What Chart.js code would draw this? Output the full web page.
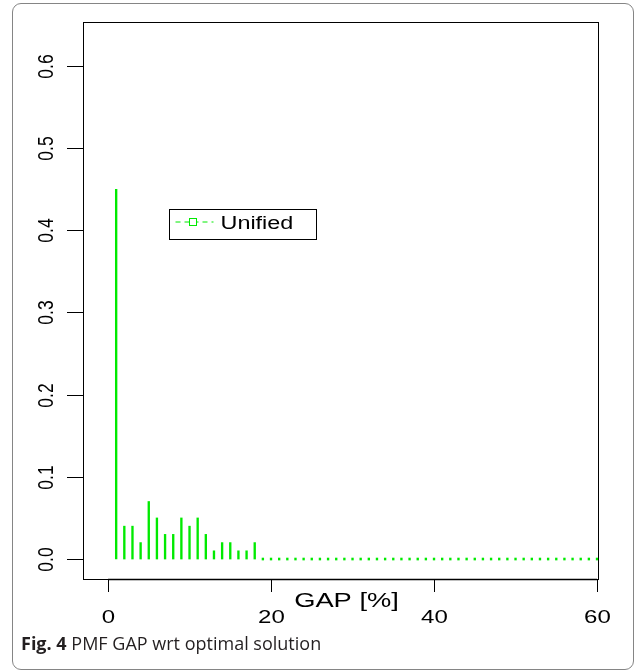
<!DOCTYPE html>
<html>
<head>
<meta charset="utf-8">
<title>PMF GAP wrt optimal solution</title>
<script src="https://cdn.jsdelivr.net/npm/chart.js@4.4.1/dist/chart.umd.min.js"></script>
<style>
  html, body { margin: 0; padding: 0; background: #fff; }
  #fig { position: relative; width: 635px; height: 672px; overflow: hidden; }
  #frame {
    position: absolute; left: 12px; top: 3px; width: 622px; height: 667px;
    border: 1.5px solid #858585; border-radius: 9px; box-sizing: border-box;
  }
  #plot { position: absolute; left: 0; top: 0; }
  #caption {
    position: absolute; left: 21px; top: 631px; margin: 0;
    font: 18px "Open Sans", sans-serif; color: #231f20; white-space: nowrap;
  }
</style>
</head>
<body>
<div id="fig">
  <div id="frame"></div>
  <canvas id="plot" width="635" height="672"></canvas>
  <p id="caption"><b>Fig. 4</b> PMF GAP wrt optimal solution</p>
</div>
<script>
// GAP values (%) and the probability mass at each of them
const gap = [
  1, 2, 3, 4, 5, 6, 7, 8, 9, 10,
  11, 12, 13, 14, 15, 16, 17, 18, 19, 20,
  21, 22, 23, 24, 25, 26, 27, 28, 29, 30,
  31, 32, 33, 34, 35, 36, 37, 38, 39, 40,
  41, 42, 43, 44, 45, 46, 47, 48, 49, 50,
  51, 52, 53, 54, 55, 56, 57, 58, 59, 60
];
const pmfUnified = [
  0.45, 0.04, 0.04, 0.02, 0.07, 0.05, 0.03, 0.03, 0.05, 0.04,
  0.05, 0.03, 0.01, 0.02, 0.02, 0.01, 0.01, 0.02, 0, 0,
  0, 0, 0, 0, 0, 0, 0, 0, 0, 0,
  0, 0, 0, 0, 0, 0, 0, 0, 0, 0,
  0, 0, 0, 0, 0, 0, 0, 0, 0, 0,
  0, 0, 0, 0, 0, 0, 0, 0, 0, 0
];
const seriesName = "Unified";
const xTicks = [0, 20, 40, 60];
const yTicks = [0, 0.1, 0.2, 0.3, 0.4, 0.5, 0.6];
const yTickLabels = ["0.0", "0.1", "0.2", "0.3", "0.4", "0.5", "0.6"];
const xTitle = "GAP [%]";

const GREEN = "#00ea00";
const FONT = '"Liberation Sans", Arial, sans-serif';
const SX = 1.3; // the R device output is wider than tall, text is stretched the same way

function rText(ctx, str, x, y, size, align, rotate) {
  ctx.save();
  ctx.translate(x, y);
  ctx.scale(SX, 1);
  if (rotate) ctx.rotate(rotate);
  ctx.font = size + "px " + FONT;
  ctx.textAlign = align;
  ctx.textBaseline = "alphabetic";
  ctx.fillStyle = "#000";
  ctx.fillText(str, 0, 0);
  ctx.restore();
}

// base-graphics look: box, outside ticks, rotated y labels, legend
const rAxes = {
  id: "rAxes",
  afterDraw(chart) {
    const { ctx, chartArea: a, scales: { x, y } } = chart;
    ctx.save();
    ctx.strokeStyle = "#000";
    ctx.lineWidth = 1;
    ctx.strokeRect(Math.round(a.left) + 0.5, Math.round(a.top) + 0.5,
      Math.round(a.right - a.left), Math.round(a.bottom - a.top));

    // y axis
    yTicks.forEach((v, i) => {
      const py = Math.round(y.getPixelForValue(v)) + 0.5;
      ctx.beginPath();
      ctx.moveTo(a.left - 16, py);
      ctx.lineTo(a.left, py);
      ctx.stroke();
      rText(ctx, yTickLabels[i], a.left - 30, py, 17.5, "center", -Math.PI / 2);
    });

    // x axis
    ctx.beginPath();
    ctx.lineWidth = 1.5;
    ctx.moveTo(x.getPixelForValue(xTicks[0]), a.bottom + 0.5);
    ctx.lineTo(x.getPixelForValue(xTicks[xTicks.length - 1]), a.bottom + 0.5);
    ctx.stroke();
    ctx.lineWidth = 1;
    xTicks.forEach((v) => {
      const px = Math.round(x.getPixelForValue(v)) + 0.5;
      ctx.beginPath();
      ctx.moveTo(px, a.bottom);
      ctx.lineTo(px, a.bottom + 13);
      ctx.stroke();
      rText(ctx, String(v), px, a.bottom + 44, 18.5, "center");
    });
    rText(ctx, xTitle, (a.left + a.right) / 2 + 6, a.bottom + 28, 21, "center");

    // legend box placed in data coordinates
    const lx = Math.round(x.getPixelForValue(7.5)) + 0.5;
    const ly = Math.round(y.getPixelForValue(0.426)) + 0.5;
    ctx.strokeStyle = "#000";
    ctx.strokeRect(lx, ly, 147, 30);
    ctx.strokeStyle = GREEN;
    ctx.setLineDash([5, 4]);
    ctx.beginPath();
    ctx.moveTo(lx + 6, ly + 12.5);
    ctx.lineTo(lx + 44, ly + 12.5);
    ctx.stroke();
    ctx.setLineDash([]);
    ctx.fillStyle = "#fff";
    ctx.fillRect(lx + 20, ly + 9, 7, 7);
    ctx.strokeRect(lx + 20, ly + 9, 7, 7);
    rText(ctx, chart.data.datasets[0].label, lx + 51, ly + 19, 18, "left");
    ctx.restore();
  }
};

new Chart(document.getElementById("plot"), {
  type: "bar",
  data: {
    datasets: [{
      label: seriesName,
      data: gap.map((g, i) => ({ x: g, y: pmfUnified[i] })),
      backgroundColor: GREEN,
      borderWidth: 0,
      barThickness: 1.7,
      minBarLength: 2
    }]
  },
  options: {
    responsive: false,
    animation: false,
    devicePixelRatio: 1,
    layout: { padding: { left: 83, top: 22, right: 37, bottom: 93 } },
    plugins: { legend: { display: false }, tooltip: { enabled: false } },
    scales: {
      x: { type: "linear", min: -3.07, max: 60.12, offset: false, display: false },
      y: { type: "linear", min: -0.0243, max: 0.6535, display: false }
    }
  },
  plugins: [rAxes]
});
</script>
</body>
</html>
